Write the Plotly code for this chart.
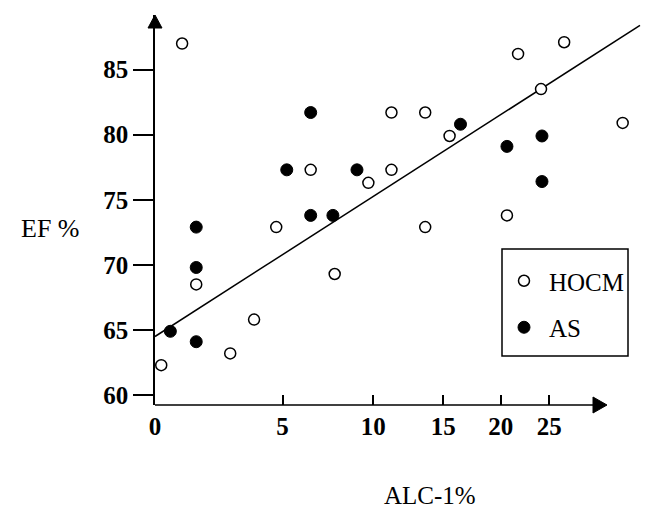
import plotly.graph_objects as go

# ---------------- data ----------------
alc_hocm = [0.9, 6.4, 9.7, 11.2, 11.2, 13.6, 15.5, 21.7, 26.7, 24.1, 34.2, 20.6,
            4.7, 1.4, 3.7, 2.7, 0.2, 13.6, 7.7]
ef_hocm = [87.0, 77.3, 76.3, 81.7, 77.3, 81.7, 79.9, 86.2, 87.1, 83.5, 80.9, 73.8,
           72.9, 68.5, 65.8, 63.2, 62.3, 72.9, 69.3]

alc_as = [5.2, 6.4, 9.0, 6.4, 7.6, 16.4, 24.2, 20.6, 24.2, 1.4, 1.4, 0.5, 1.4]
ef_as = [77.3, 81.7, 77.3, 73.8, 73.8, 80.8, 79.9, 79.1, 76.4, 72.9, 69.8, 64.9, 64.1]

fit_alc = [0.0, 36.7]
fit_ef = [64.5, 88.4]

x_ticks = [0, 5, 10, 15, 20, 25]
y_ticks = [60, 65, 70, 75, 80, 85]
X_OFFSET = 10  # the original axis is scaled as log(ALC + 10)

# ---------------- layout geometry ----------------
PAGE_MARGIN = 8            # default body margin of the html page
W, H = 666 - PAGE_MARGIN, 530 - PAGE_MARGIN
# plot area in page pixels
L, R, T, B = 155, 645, 15, 405
PX_PER_DECADE = 724.6
x_range = [1.0, 1.0 + (R - L) / PX_PER_DECADE]
y_range = [59.24, 89.19]

FONT = "Liberation Serif, Times New Roman, serif"


def px(xp):
    return (xp - L) / (R - L)


def py(yp):
    return (B - yp) / (B - T)


def shift(vals):
    return [v + X_OFFSET for v in vals]


fig = go.Figure()

fig.add_trace(go.Scatter(
    x=shift(fit_alc), y=fit_ef, mode="lines",
    line=dict(color="black", width=1.5), showlegend=False, hoverinfo="skip"))

fig.add_trace(go.Scatter(
    x=shift(alc_hocm), y=ef_hocm, mode="markers", name="HOCM", legendgroup="a",
    marker=dict(symbol="circle", size=11, color="white",
                line=dict(color="black", width=1.5)),
    cliponaxis=False))

fig.add_trace(go.Scatter(
    x=shift(alc_as), y=ef_as, mode="markers", name="AS", legendgroup="b",
    marker=dict(symbol="circle", size=12, color="black",
                line=dict(color="black", width=1)),
    cliponaxis=False))

shapes = [
    # x axis line with arrow
    dict(type="line", xref="paper", yref="paper", x0=0, x1=px(594), y0=0, y1=0,
         line=dict(color="black", width=1.5)),
    dict(type="path", xref="paper", yref="paper",
         path=f"M {px(593)},{py(397)} L {px(607)},{py(405)} L {px(593)},{py(413)} Z",
         fillcolor="black", line=dict(color="black", width=1)),
    # y axis arrow
    dict(type="path", xref="paper", yref="paper",
         path=f"M {px(148)},{py(28)} L {px(155)},{py(15)} L {px(162)},{py(28)} Z",
         fillcolor="black", line=dict(color="black", width=1)),
    # legend box
    dict(type="rect", xref="paper", yref="paper",
         x0=px(502), x1=px(628), y0=py(356), y1=py(249),
         line=dict(color="black", width=1.5), fillcolor="rgba(0,0,0,0)"),
]

annotations = [
    dict(text="EF %", xref="paper", yref="paper", x=px(50), y=py(228),
         xanchor="center", yanchor="middle", showarrow=False,
         font=dict(family=FONT, size=26, color="black")),
    dict(text="ALC-1%", xref="paper", yref="paper", x=px(430), y=py(495),
         xanchor="center", yanchor="middle", showarrow=False,
         font=dict(family=FONT, size=25, color="black")),
]

fig.update_layout(
    width=W, height=H,
    margin=dict(l=L - PAGE_MARGIN, r=666 - R, t=T - PAGE_MARGIN, b=530 - B),
    paper_bgcolor="white", plot_bgcolor="white",
    shapes=shapes, annotations=annotations,
    showlegend=True,
    legend=dict(x=px(499), y=py(258), xanchor="left", yanchor="top",
                bgcolor="rgba(0,0,0,0)", borderwidth=0,
                font=dict(family=FONT, size=25, color="black"),
                tracegroupgap=11, itemwidth=40),
    xaxis=dict(type="log", range=x_range,
               tickmode="array", tickvals=shift(x_ticks),
               ticktext=[str(v) for v in x_ticks],
               ticks="inside", ticklen=10, tickwidth=1.5, tickcolor="black",
               showline=False, showgrid=False, zeroline=False,
               ticklabelstandoff=4,
               tickfont=dict(family=FONT, size=25, color="black", weight="bold")),
    yaxis=dict(range=y_range, tickmode="array", tickvals=y_ticks,
               ticks="outside", ticklen=20, tickwidth=1.5, tickcolor="black",
               showline=True, linewidth=1.5, linecolor="black",
               showgrid=False, zeroline=False,
               tickfont=dict(family=FONT, size=25, color="black", weight="bold")),
)

fig.write_html("out.html")
